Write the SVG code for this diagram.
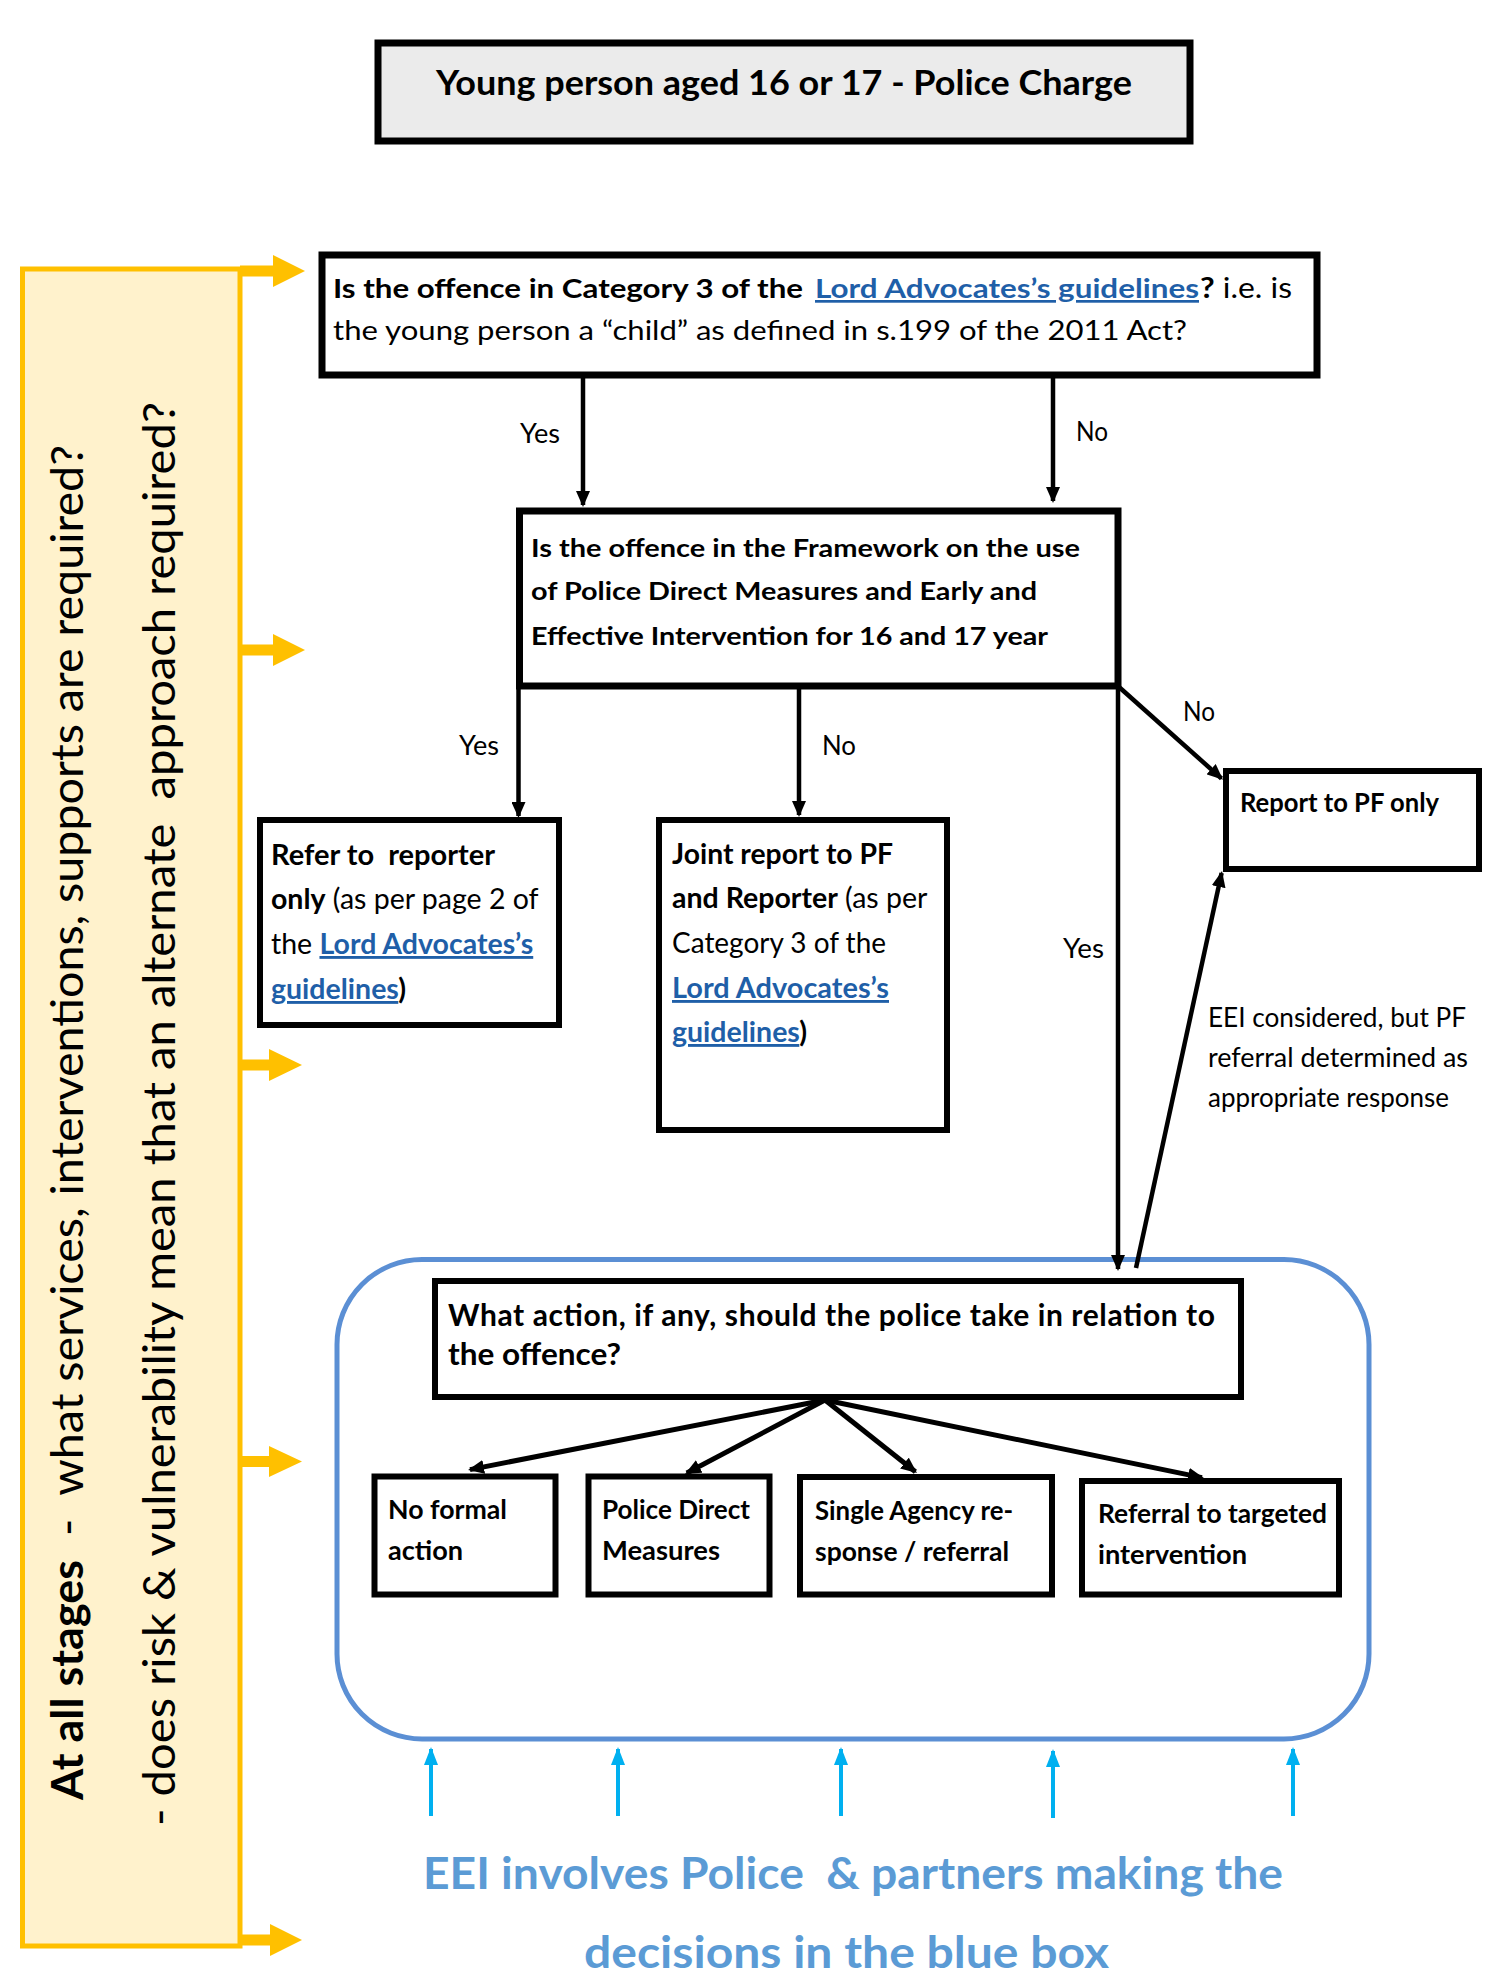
<svg xmlns="http://www.w3.org/2000/svg" width="1504" height="1986" viewBox="0 0 1504 1986">
<style>
text{font-family:Lato,"Liberation Sans",sans-serif;fill:#000}
.b{font-weight:700}
.r{font-weight:400}
.lk{fill:#1f5fa8;font-weight:700;text-decoration:underline}
.box{fill:#fff;stroke:#000;stroke-width:6}
.conn{stroke:#000;stroke-width:4.5;fill:none;marker-end:url(#ah)}
.cy{stroke:#00b0f0;stroke-width:4;fill:none;marker-end:url(#ahc)}
.lbl{font-size:27px}
.ya{fill:#ffc000}
.blue{fill:#5b9bd5;font-weight:700;font-size:43px}
.vert{font-size:44px}
.bt{font-size:28.5px}
.sb{font-size:26.5px;font-weight:700}
</style>
<defs>
<marker id="ah" viewBox="0 0 16 14" refX="14" refY="7" markerWidth="16" markerHeight="14" markerUnits="userSpaceOnUse" orient="auto"><path d="M0,0L16,7L0,14z" fill="#000"/></marker>
<marker id="ahc" viewBox="0 0 18 14" refX="16" refY="7" markerWidth="18" markerHeight="14" markerUnits="userSpaceOnUse" orient="auto"><path d="M0,0L18,7L0,14z" fill="#00b0f0"/></marker>
</defs>
<rect width="1504" height="1986" fill="#fff"/>

<g id="side-panel">
<rect x="22.5" y="269" width="217.5" height="1677" fill="#fff2cc" stroke="#ffc000" stroke-width="5"/>
<polygon class="ya" points="240,265.5 273,265.5 273,255 305,271 273,287 273,276.5 240,276.5"/>
<polygon class="ya" points="240,644.5 273,644.5 273,634 305,650 273,666 273,655.5 240,655.5"/>
<polygon class="ya" points="240,1059.5 269,1059.5 269,1049 302,1065 269,1081 269,1070.5 240,1070.5"/>
<polygon class="ya" points="240,1456 269,1456 269,1446 302,1461.5 269,1477 269,1467 240,1467"/>
<polygon class="ya" points="240,1934.5 270,1934.5 270,1924 302,1940 270,1956 270,1945.5 240,1945.5"/>
<text class="vert b" transform="translate(83,1800) rotate(-90)" textLength="240" lengthAdjust="spacingAndGlyphs">At all stages</text>
<text class="vert r" transform="translate(83,1536) rotate(-90)" textLength="1091" lengthAdjust="spacingAndGlyphs">-&#160; what services, interventions, supports are required?</text>
<text class="vert r" transform="translate(175,1826) rotate(-90)" textLength="1424" lengthAdjust="spacingAndGlyphs">- does risk &amp; vulnerability mean that an alternate&#160; approach required?</text>
</g>

<g id="title">
<rect x="378" y="43" width="812" height="98" fill="#ebebeb" stroke="#000" stroke-width="7"/>
<text class="b" x="784" y="95" font-size="34" text-anchor="middle" textLength="696" lengthAdjust="spacingAndGlyphs">Young person aged 16 or 17 - Police Charge</text>
</g>

<g id="q1">
<rect x="322" y="255" width="995" height="120" fill="#fff" stroke="#000" stroke-width="7"/>
<text class="b" x="333" y="298" font-size="27" textLength="470" lengthAdjust="spacingAndGlyphs">Is the offence in Category 3 of the</text>
<text class="lk" x="815" y="298" font-size="27" textLength="384" lengthAdjust="spacingAndGlyphs">Lord Advocates’s guidelines</text>
<text x="1200" y="298" font-size="28" textLength="92" lengthAdjust="spacingAndGlyphs"><tspan class="b">?</tspan><tspan class="r"> i.e. is</tspan></text>
<text class="r" x="333" y="340" font-size="27" textLength="854" lengthAdjust="spacingAndGlyphs">the young person a “child” as defined in s.199 of the 2011 Act?</text>
</g>

<g id="q2">
<rect x="519.5" y="511" width="598.5" height="175" fill="#fff" stroke="#000" stroke-width="7"/>
<text class="b" x="531" y="557" font-size="25" textLength="549" lengthAdjust="spacingAndGlyphs">Is the offence in the Framework on the use</text>
<text class="b" x="531" y="600" font-size="25" textLength="506" lengthAdjust="spacingAndGlyphs">of Police Direct Measures and Early and</text>
<text class="b" x="531" y="645" font-size="25" textLength="517" lengthAdjust="spacingAndGlyphs">Effective Intervention for 16 and 17 year</text>
</g>

<g id="refer-reporter">
<rect class="box" x="260" y="820" width="299" height="205" stroke-width="7"/>
<text class="b bt" x="271" y="865" textLength="224" lengthAdjust="spacingAndGlyphs">Refer to&#160; reporter</text>
<text class="bt" x="271" y="909"><tspan class="b">only</tspan><tspan class="r"> (as per page 2 of</tspan></text>
<text class="bt" x="271" y="954"><tspan class="r">the </tspan><tspan class="lk">Lord Advocates’s</tspan></text>
<text class="bt" x="271" y="999"><tspan class="lk">guidelines</tspan><tspan class="b">)</tspan></text>
</g>

<g id="joint-report">
<rect class="box" x="659" y="820" width="288" height="310" stroke-width="7"/>
<text class="b bt" x="672" y="864" textLength="221" lengthAdjust="spacingAndGlyphs">Joint report to PF</text>
<text class="bt" x="672" y="908"><tspan class="b">and Reporter</tspan><tspan class="r"> (as per</tspan></text>
<text class="r bt" x="672" y="953" textLength="214" lengthAdjust="spacingAndGlyphs">Category 3 of the</text>
<text class="lk bt" x="672" y="998" textLength="217" lengthAdjust="spacingAndGlyphs">Lord Advocates’s</text>
<text class="bt" x="672" y="1042"><tspan class="lk">guidelines</tspan><tspan class="b">)</tspan></text>
</g>

<g id="report-pf">
<rect class="box" x="1226" y="771" width="253" height="98"/>
<text class="b" x="1240" y="812" font-size="26" textLength="199" lengthAdjust="spacingAndGlyphs">Report to PF only</text>
</g>

<g id="eei-note">
<text class="r" x="1208" y="1027" font-size="26" textLength="258" lengthAdjust="spacingAndGlyphs">EEI considered, but PF</text>
<text class="r" x="1208" y="1067" font-size="26" textLength="260" lengthAdjust="spacingAndGlyphs">referral determined as</text>
<text class="r" x="1208" y="1107" font-size="26" textLength="241" lengthAdjust="spacingAndGlyphs">appropriate response</text>
</g>

<g id="blue-box">
<rect x="337" y="1259.5" width="1032" height="479.5" rx="85" ry="85" fill="none" stroke="#5b8fd4" stroke-width="5"/>
</g>

<g id="what-action">
<rect class="box" x="435" y="1281" width="806" height="116"/>
<text class="b" x="448" y="1326" font-size="30" textLength="767" lengthAdjust="spacing">What action, if any, should the police take in relation to</text>
<text class="b" x="448" y="1365" font-size="30" textLength="173" lengthAdjust="spacingAndGlyphs">the offence?</text>
</g>

<g id="no-formal">
<rect class="box" x="374.5" y="1476.5" width="181" height="118"/>
<text class="sb" x="388" y="1519" textLength="119" lengthAdjust="spacingAndGlyphs">No formal</text>
<text class="sb" x="388" y="1560" textLength="75" lengthAdjust="spacingAndGlyphs">action</text>
</g>

<g id="police-direct">
<rect class="box" x="588.5" y="1476.5" width="181" height="118"/>
<text class="sb" x="602" y="1519" textLength="148" lengthAdjust="spacingAndGlyphs">Police Direct</text>
<text class="sb" x="602" y="1560" textLength="118" lengthAdjust="spacingAndGlyphs">Measures</text>
</g>

<g id="single-agency">
<rect class="box" x="800" y="1477" width="252" height="117.5"/>
<text class="sb" x="815" y="1520" textLength="198" lengthAdjust="spacingAndGlyphs">Single Agency re-</text>
<text class="sb" x="815" y="1561" textLength="194" lengthAdjust="spacingAndGlyphs">sponse / referral</text>
</g>

<g id="referral-targeted">
<rect class="box" x="1082" y="1481" width="257" height="113.5"/>
<text class="sb" x="1098" y="1523" textLength="229" lengthAdjust="spacingAndGlyphs">Referral to targeted</text>
<text class="sb" x="1098" y="1564" textLength="149" lengthAdjust="spacingAndGlyphs">intervention</text>
</g>

<g id="eei-caption">
<text class="blue" x="853" y="1889" text-anchor="middle" textLength="860" lengthAdjust="spacingAndGlyphs">EEI involves Police&#160; &amp; partners making the</text>
<text class="blue" x="846.5" y="1968" text-anchor="middle" textLength="525" lengthAdjust="spacingAndGlyphs">decisions in the blue box</text>
</g>

<g id="connectors">
<path class="conn" d="M583,378V505"/>
<path class="conn" d="M1053,378V501"/>
<path class="conn" d="M518.5,686V816"/>
<path class="conn" d="M799,683V815"/>
<path class="conn" d="M1119,687L1221.5,778.5"/>
<path class="conn" d="M1118,686V1269"/>
<path class="conn" d="M1136,1268L1221.6,873"/>
<path class="conn" style="stroke-width:5" d="M825,1400L470,1469.6"/>
<path class="conn" style="stroke-width:5" d="M825,1400L686.8,1473"/>
<path class="conn" style="stroke-width:5" d="M825,1400L915.4,1471.8"/>
<path class="conn" style="stroke-width:5" d="M825,1400L1202,1477.6"/>
<path class="cy" d="M431,1816V1749"/>
<path class="cy" d="M618,1816V1749"/>
<path class="cy" d="M841,1816V1749"/>
<path class="cy" d="M1053,1818V1751"/>
<path class="cy" d="M1293,1816V1749"/>
<text class="lbl r" x="520" y="443" textLength="40" lengthAdjust="spacingAndGlyphs">Yes</text>
<text class="lbl r" x="1076" y="441" textLength="32" lengthAdjust="spacingAndGlyphs">No</text>
<text class="lbl r" x="459" y="755" textLength="40" lengthAdjust="spacingAndGlyphs">Yes</text>
<text class="lbl r" x="822" y="755" textLength="34" lengthAdjust="spacingAndGlyphs">No</text>
<text class="lbl r" x="1183" y="721" textLength="32" lengthAdjust="spacingAndGlyphs">No</text>
<text class="lbl r" x="1063" y="958" textLength="41" lengthAdjust="spacingAndGlyphs">Yes</text>
</g>
</svg>
